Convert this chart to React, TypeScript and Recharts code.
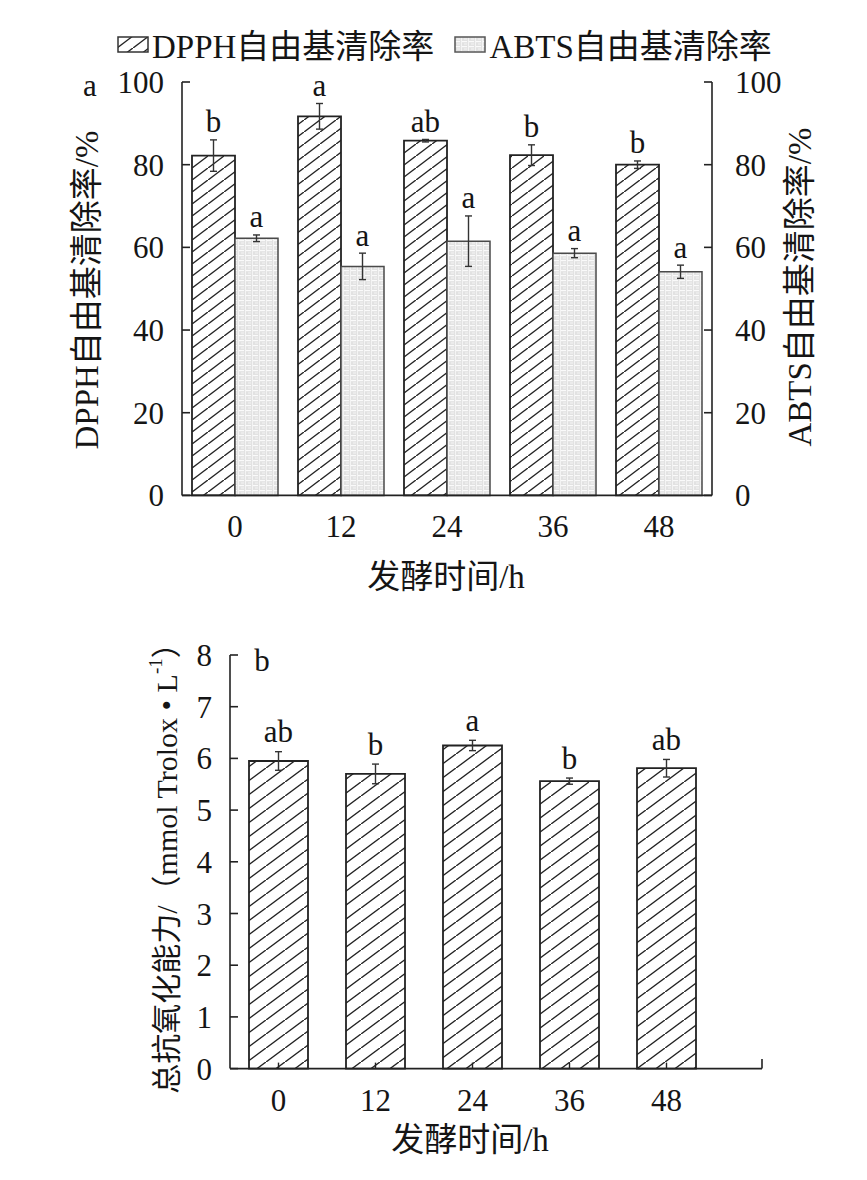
import React from 'react'
import { BarChart, Bar, XAxis, YAxis, ErrorBar, LabelList, Label, Legend } from 'recharts'

const hours = ['0', '12', '24', '36', '48']
const dpph = [82.2, 91.7, 85.8, 82.3, 80.0]
const dpphErr = [3.8, 3.1, 0.3, 2.5, 0.9]
const dpphSig = ['b', 'a', 'ab', 'b', 'b']
const abts = [62.2, 55.4, 61.5, 58.6, 54.1]
const abtsErr = [0.8, 3.2, 6.1, 1.1, 1.6]
const abtsSig = ['a', 'a', 'a', 'a', 'a']
const taoc = [5.95, 5.7, 6.25, 5.56, 5.81]
const taocErr = [0.18, 0.19, 0.1, 0.06, 0.17]
const taocSig = ['ab', 'b', 'a', 'b', 'ab']
const pctTicks = [0, 20, 40, 60, 80, 100]
const taocTicks = [0, 1, 2, 3, 4, 5, 6, 7, 8]

const FONT = "'Liberation Serif', 'Noto Sans CJK SC', serif"
const INK = '#151515'

const topData = hours.map((h, i) => ({ h, dpph: dpph[i], dpphErr: dpphErr[i], abts: abts[i], abtsErr: abtsErr[i] }))
const bottomData = hours.map((h, i) => ({ h, taoc: taoc[i], taocErr: taocErr[i] }))

// serif tick text (the default tick ignores our font on some axes)
const SerifTick = (p: any) => {
  const dy = p.verticalAnchor === 'start' ? '0.71em' : p.verticalAnchor === 'end' ? 0 : '0.355em'
  return (
    <text x={p.x} y={p.y} dy={dy} textAnchor={p.textAnchor} fill={INK} fontSize={31} fontFamily={FONT}>
      {p.payload.value}
    </text>
  )
}

const Patterns = ({ prefix = '' }: any) => (
  <defs>
    <pattern id={prefix + 'hatch'} patternUnits="userSpaceOnUse" width={16} height={12}>
      <rect width={16} height={12} fill="#fff" />
      <path d="M-2,13.5 L18,-1.5" stroke="#222" strokeWidth={1.4} />
    </pattern>
    <pattern id={prefix + 'hatch2'} patternUnits="userSpaceOnUse" width={19} height={14}>
      <rect width={19} height={14} fill="#fff" />
      <path d="M-2,15.5 L21,-1.5" stroke="#222" strokeWidth={1.4} />
    </pattern>
    <pattern id={prefix + 'brick'} patternUnits="userSpaceOnUse" width={7} height={5}>
      <rect width={7} height={5} fill="#e2e2e2" />
      <rect x={1} y={0} width={5} height={1.2} fill="#fafafa" />
      <rect x={0} y={0} width={1} height={5} fill="#f4f4f4" />
      <rect x={3} y={2.5} width={3} height={1} fill="#f4f4f4" />
    </pattern>
  </defs>
)

const sigLabel = (vals: number[], errs: number[], sig: string[], gap: number) => (p: any) => {
  const { x, y, width, height, index } = p
  const perUnit = height / vals[index]
  const top = y - errs[index] * perUnit
  return (
    <text x={x + width / 2} y={top - gap} textAnchor="middle" fill={INK} fontSize={31} fontFamily={FONT}>
      {sig[index]}
    </text>
  )
}

const TopLegend = () => (
  <div style={{ position: 'relative', width: 867, height: 40, fontFamily: FONT, fontSize: 33, color: INK }}>
    <div style={{ position: 'absolute', left: 117, top: 0, display: 'flex', alignItems: 'center', whiteSpace: 'nowrap' }}>
      <svg width={32} height={17} style={{ marginRight: 3 }}>
        <Patterns prefix="lg" />
        <rect x={1} y={1} width={30} height={15} fill="url(#lghatch)" stroke="#333" strokeWidth={1.5} />
      </svg>
      <span>DPPH自由基清除率</span>
      <svg width={32} height={17} style={{ marginLeft: 20, marginRight: 3 }}>
        <rect x={1} y={1} width={30} height={15} fill="url(#lgbrick)" stroke="#555" strokeWidth={1.5} />
      </svg>
      <span>ABTS自由基清除率</span>
    </div>
  </div>
)

const axisStroke = { stroke: '#222', strokeWidth: 1.6 }

export default function App() {
  return (
    <div style={{ position: 'absolute', left: 0, top: 0, width: 867, height: 1180, background: '#fff' }}>
      <div style={{ position: 'absolute', left: 0, top: 0 }}>
        <BarChart width={867} height={600} data={topData} barGap={0} margin={{ top: 82, right: 0, left: 0, bottom: 44.6 }}>
          <Patterns />
          <Legend verticalAlign="middle" align="center" layout="horizontal" content={() => <TopLegend />}
            wrapperStyle={{ position: 'absolute', top: 20, left: 0, width: 867, height: 40 }} />
          <XAxis dataKey="h" height={60} tick={SerifTick} tickLine={false} tickSize={0} tickMargin={20} axisLine={axisStroke}>
            <Label content={() => (
              <text x={446} y={577} textAnchor="middle" dominantBaseline="central" fill={INK} fontSize={33} fontFamily={FONT}>发酵时间/h</text>
            )} />
          </XAxis>
          <YAxis yAxisId="left" width={182} domain={[0, 100]} ticks={pctTicks} tick={SerifTick} tickSize={-8} tickMargin={26}
            axisLine={axisStroke} tickLine={axisStroke}>
            <Label content={() => (
              <g>
                <text x={87} y={290} transform="rotate(-90 87 290)" textAnchor="middle" dominantBaseline="central" fill={INK} fontSize={33} fontFamily={FONT}>DPPH自由基清除率/%</text>
                <text x={90} y={85} textAnchor="middle" dominantBaseline="central" fill={INK} fontSize={31} fontFamily={FONT}>a</text>
              </g>
            )} />
          </YAxis>
          <YAxis yAxisId="right" orientation="right" width={155} domain={[0, 100]} ticks={pctTicks} tick={SerifTick} tickSize={-8} tickMargin={31}
            axisLine={axisStroke} tickLine={axisStroke}>
            <Label content={() => (
              <text x={800} y={287} transform="rotate(-90 800 287)" textAnchor="middle" dominantBaseline="central" fill={INK} fontSize={33} fontFamily={FONT}>ABTS自由基清除率/%</text>
            )} />
          </YAxis>
          <Bar yAxisId="left" dataKey="dpph" barSize={43} fill="url(#hatch)" stroke="#222" strokeWidth={1.8} isAnimationActive={false}>
            <ErrorBar dataKey="dpphErr" width={3.5} stroke="#333" strokeWidth={1.4} />
            <LabelList dataKey="dpph" content={sigLabel(dpph, dpphErr, dpphSig, 7.5)} />
          </Bar>
          <Bar yAxisId="right" dataKey="abts" barSize={43} fill="url(#brick)" stroke="#4a4a4a" strokeWidth={1.5} isAnimationActive={false}>
            <ErrorBar dataKey="abtsErr" width={3.5} stroke="#333" strokeWidth={1.4} />
            <LabelList dataKey="abts" content={sigLabel(abts, abtsErr, abtsSig, 7.5)} />
          </Bar>
        </BarChart>
      </div>
      <div style={{ position: 'absolute', left: 0, top: 600 }}>
        <BarChart width={867} height={580} data={bottomData} margin={{ top: 55, right: 105, left: 0, bottom: 51.4 }}>
          <Patterns />
          <XAxis dataKey="h" height={60} padding={{ left: 0, right: 47 }} tick={SerifTick} tickSize={-6} tickMargin={26}
            axisLine={axisStroke} tickLine={{ stroke: '#222', strokeWidth: 1.4 }}>
            <Label content={() => (
              <g>
                <text x={470} y={540} textAnchor="middle" dominantBaseline="central" fill={INK} fontSize={33} fontFamily={FONT}>发酵时间/h</text>
                <line x1={762} y1={468.6} x2={762} y2={459} stroke="#222" strokeWidth={1.6} />
              </g>
            )} />
          </XAxis>
          <YAxis width={230} domain={[0, 8]} ticks={taocTicks} tick={SerifTick} tickSize={-8} tickMargin={26}
            axisLine={axisStroke} tickLine={axisStroke}>
            <Label content={() => (
              <g>
                <text x={166} y={261} transform="rotate(-90 166 261)" textAnchor="middle" dominantBaseline="central" fill={INK} fontSize={30} fontFamily={FONT}>
                  总抗氧化能力/（mmol Trolox • L<tspan fontSize={19} dy={-11}>-1</tspan><tspan dy={11}>）</tspan>
                </text>
                <text x={262} y={60} textAnchor="middle" dominantBaseline="central" fill={INK} fontSize={31} fontFamily={FONT}>b</text>
              </g>
            )} />
          </YAxis>
          <Bar dataKey="taoc" barSize={59} fill="url(#hatch2)" stroke="#222" strokeWidth={1.8} isAnimationActive={false}>
            <ErrorBar dataKey="taocErr" width={3.5} stroke="#333" strokeWidth={1.4} />
            <LabelList dataKey="taoc" content={sigLabel(taoc, taocErr, taocSig, 9.5)} />
          </Bar>
        </BarChart>
      </div>
    </div>
  )
}
